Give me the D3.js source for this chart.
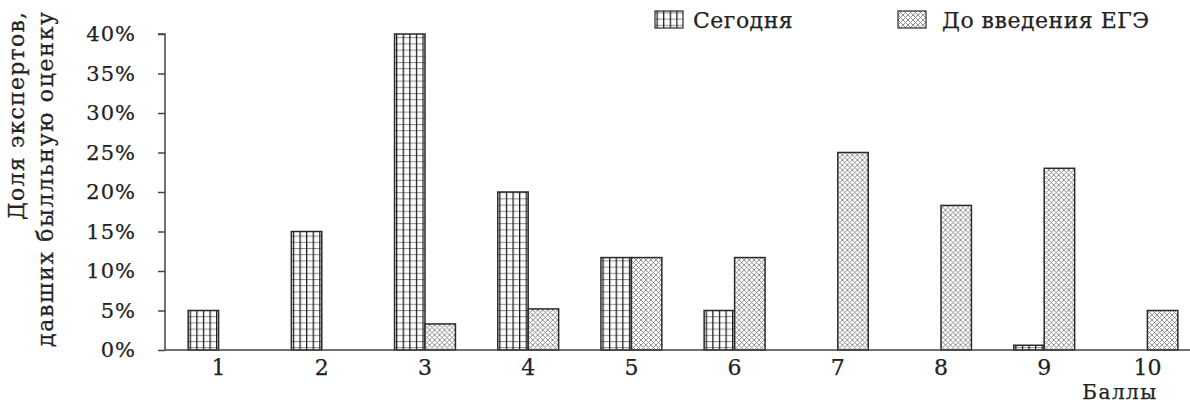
<!DOCTYPE html>
<html>
<head>
<meta charset="utf-8">
<script src="https://cdn.jsdelivr.net/npm/d3@7"></script>
<style>
  html, body { margin: 0; padding: 0; background: #fff; }
  svg { display: block; }
  text { font-family: "DejaVu Serif", "Liberation Serif", serif; fill: #222; stroke: #222; stroke-width: 0.25px; }
</style>
</head>
<body>
<svg id="chart" width="1190" height="405"></svg>
<script>
// ---- data ----
const categories = ["1", "2", "3", "4", "5", "6", "7", "8", "9", "10"];
const seriesNames = ["Сегодня", "До введения ЕГЭ"];
const today = [5, 15, 40, 20, 11.7, 5, 0, 0, 0.6, 0];
const beforeEge = [0, 0, 3.3, 5.2, 11.7, 11.7, 25, 18.3, 23, 5];
const yTicks = [0, 5, 10, 15, 20, 25, 30, 35, 40];
const yTitleLines = ["Доля экспертов,", "давших былльную оценку"];
const xTitle = "Баллы";

// ---- layout ----
const W = 1190, H = 405;
const axisX = 165, baseY = 350, topY = 34;

const svg = d3.select("#chart");
const defs = svg.append("defs");

// pattern: grid (Сегодня)
const pg = defs.append("pattern").attr("id", "pGrid")
  .attr("patternUnits", "userSpaceOnUse").attr("width", 6.6).attr("height", 6.2)
  .attr("x", 1.5).attr("y", 0);
pg.append("rect").attr("width", 6.6).attr("height", 6.2).attr("fill", "#fff");
pg.append("line").attr("x1", 0).attr("x2", 6.6).attr("y1", 0.5).attr("y2", 0.5)
  .attr("stroke", "#8a8a8a").attr("stroke-width", 1);
pg.append("line").attr("x1", 0.6).attr("x2", 0.6).attr("y1", 0).attr("y2", 6.2)
  .attr("stroke", "#1a1a1a").attr("stroke-width", 1.3);

// pattern: cross-hatch (До введения ЕГЭ)
const pc = defs.append("pattern").attr("id", "pCross")
  .attr("patternUnits", "userSpaceOnUse").attr("width", 5).attr("height", 5);
pc.append("rect").attr("width", 5).attr("height", 5).attr("fill", "#fff");
pc.append("path").attr("d", "M0,0L5,5M5,0L0,5")
  .attr("stroke", "#808080").attr("stroke-width", 0.85).attr("fill", "none");

const fills = ["url(#pGrid)", "url(#pCross)"];

const x = d3.scaleBand().domain(categories).range([167, 1199])
  .paddingInner(0.41).paddingOuter(0.205);
const xSub = d3.scaleBand().domain(seriesNames).range([0, x.bandwidth()]);
const y = d3.scaleLinear().domain([0, 40]).range([baseY, topY]);

// bars
const rows = categories.map((c, i) => ({ c, vals: [today[i], beforeEge[i]] }));
const groups = svg.append("g").selectAll("g").data(rows).join("g")
  .attr("transform", d => `translate(${x(d.c)},0)`);
groups.selectAll("rect")
  .data(d => d.vals.map((v, j) => ({ v, j })).filter(e => e.v > 0))
  .join("rect")
  .attr("x", e => xSub(seriesNames[e.j]))
  .attr("width", xSub.bandwidth())
  .attr("y", e => y(e.v))
  .attr("height", e => baseY - y(e.v))
  .attr("fill", e => fills[e.j])
  .attr("stroke", "#2a2a2a")
  .attr("stroke-width", 1.5);

// y axis
const yAxis = d3.axisLeft(y).tickValues(yTicks).tickSize(7).tickPadding(22)
  .tickFormat(d => d + "%");
const gy = svg.append("g").attr("transform", `translate(${axisX},0)`).call(yAxis);
gy.select(".domain").attr("stroke", "#444").attr("stroke-width", 1.5)
  .attr("d", `M-7,${topY}H0V${baseY}`);
gy.selectAll(".tick line").attr("stroke", "#444").attr("stroke-width", 1.5);
gy.selectAll(".tick text").attr("font-family", "DejaVu Serif").attr("font-size", 21)
  .attr("letter-spacing", 1).attr("fill", "#222");

// x axis baseline
svg.append("line").attr("x1", axisX).attr("x2", W).attr("y1", baseY).attr("y2", baseY)
  .attr("stroke", "#444").attr("stroke-width", 1.5);

// x labels at group centers
const xAxis = d3.axisBottom(x).tickSize(0).tickPadding(0);
const gx = svg.append("g").attr("transform", `translate(0,${baseY})`).call(xAxis);
gx.select(".domain").remove();
gx.selectAll(".tick text").attr("font-family", "DejaVu Serif").attr("font-size", 22)
  .attr("fill", "#222").attr("dy", null).attr("y", 25);

// x title
svg.append("text").attr("x", 1120).attr("y", 399).attr("text-anchor", "middle")
  .attr("font-size", 20).attr("letter-spacing", 1.5).text(xTitle);

// y title
const titleLens = [208, 335];
const yt = svg.append("text").attr("transform", "rotate(-90)")
  .attr("text-anchor", "end").attr("font-size", 22);
yt.selectAll("tspan").data(yTitleLines).join("tspan")
  .attr("x", -12).attr("y", (d, i) => i === 0 ? 24 : 53)
  .attr("textLength", (d, i) => titleLens[i]).attr("lengthAdjust", "spacing")
  .text(d => d);

// legend
const legendX = [655, 898];
const lg = svg.append("g").selectAll("g").data(seriesNames).join("g")
  .attr("transform", (d, i) => `translate(${legendX[i]},0)`);
lg.append("rect").attr("x", 0).attr("y", 11).attr("width", 28).attr("height", 17)
  .attr("fill", (d, i) => fills[i]).attr("stroke", "#2a2a2a").attr("stroke-width", 1.2);
lg.append("text").attr("x", (d, i) => i === 0 ? 38 : 44).attr("y", 28)
  .attr("font-size", 22).attr("letter-spacing", 0.5).text(d => d);
</script>
</body>
</html>
